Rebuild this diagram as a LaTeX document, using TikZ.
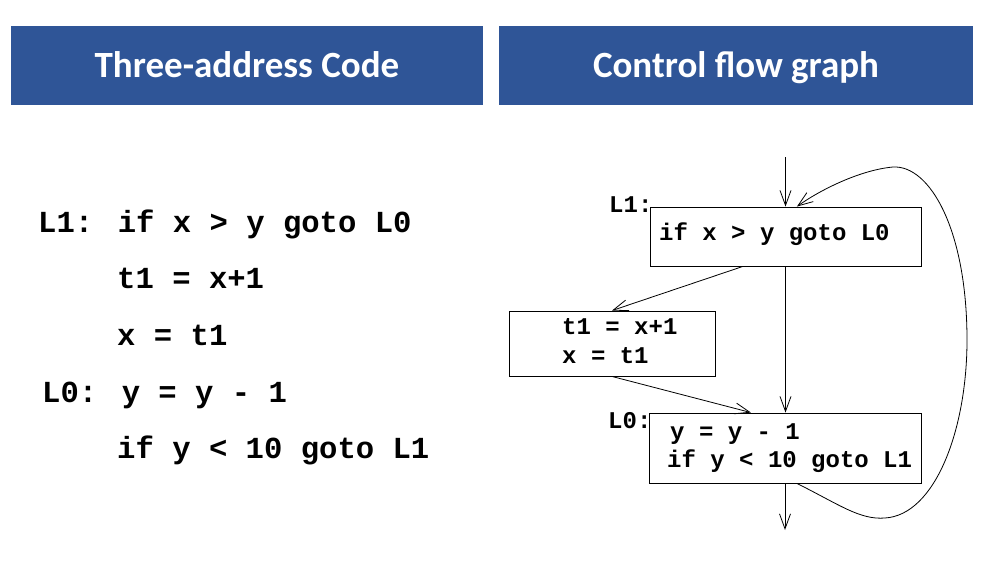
\documentclass[tikz,border=0pt]{standalone}
\usepackage{fontspec}
\usetikzlibrary{arrows.meta,calc}
\newfontfamily\hdrfont{Carlito}
\newfontfamily\codefont{Liberation Mono}
\definecolor{hdrblue}{HTML}{2F5597}
\begin{document}
\begin{tikzpicture}[x=1pt,y=-1pt,
  hdr/.style={fill=hdrblue,draw=none,minimum width=472pt,minimum height=79pt,inner sep=0pt},
  hdrtext/.style={anchor=base,inner sep=0pt,text=white,font=\hdrfont\bfseries\fontsize{37}{37}\selectfont},
  bigcode/.style={anchor=base west,inner sep=0pt,font=\codefont\bfseries\fontsize{30.6}{31}\selectfont},
  smallcode/.style={anchor=base west,inner sep=0pt,font=\codefont\bfseries\fontsize{24}{24}\selectfont},
  blk/.style={draw,line width=0.9pt,inner sep=0pt},
  edge/.style={line width=0.8pt,-{Straight Barb[length=15pt,width=11pt,line width=0.8pt]}}]
\useasboundingbox[fill=white] (0,0) rectangle (988,560);
% headers
\node[hdr] (h1) at (247,65.5) {};
\node[hdr,minimum width=474pt] (h2) at (736,65.5) {};
\node[hdrtext] (h1t) at (247,77) {Three-address Code};
\node[hdrtext] (h2t) at (736,77) {Control flow graph};
% three-address code
\node[bigcode] (c1) at (38,232) {L1: if x > y goto L0};
\node[bigcode] (c2) at (117,288) {t1 = x+1};
\node[bigcode] (c3) at (117,345) {x = t1};
\node[bigcode] (c4) at (42,402) {L0: y = y - 1};
\node[bigcode] (c5) at (117,458) {if y < 10 goto L1};
% CFG blocks
\node[blk,minimum width=271pt,minimum height=59pt] (b1) at (785.5,236.5) {};
\node[blk,minimum width=206pt,minimum height=65pt] (b2) at (612,343.5) {};
\node[blk,minimum width=272pt,minimum height=70pt] (b3) at (785,448) {};
\node[smallcode] (t1) at (659,240) {if x > y goto L0};
\node[smallcode] (t2) at (562,334) {t1 = x+1};
\node[smallcode] (t3) at (562,363) {x = t1};
\node[smallcode] (t4) at (670,439) {y = y - 1};
\node[smallcode] (t5) at (667,467) {if y < 10 goto L1};
\node[smallcode] (l1) at (609,212) {L1:};
\node[smallcode] (l0) at (608,428) {L0:};
\coordinate (entry) at (785.5,157);
\coordinate (exit) at (785,530);
% edges
\draw[edge] (entry) -- (b1.north);
\draw[edge] (b1.south) -- (b3.north -| b1.south);
\draw[edge] ($(b1.south west)!0.343!(b1.south east)$) -- (b2.north);
\draw[edge] (b2.south) -- ($(b3.north west)!0.375!(b3.north east)$);
\draw[edge] (b3.south) -- (exit);
\draw[edge] ($(b3.south west)!0.544!(b3.south east)$)
  .. controls (840,505) and (860,520) .. (885,518)
  .. controls (935,515) and (967,430) .. (967,340)
  .. controls (967,230) and (930,165) .. (893,167)
  .. controls (860,170) and (820,190) .. ($(b1.north west)!0.542!(b1.north east)$);
\end{tikzpicture}
\end{document}
